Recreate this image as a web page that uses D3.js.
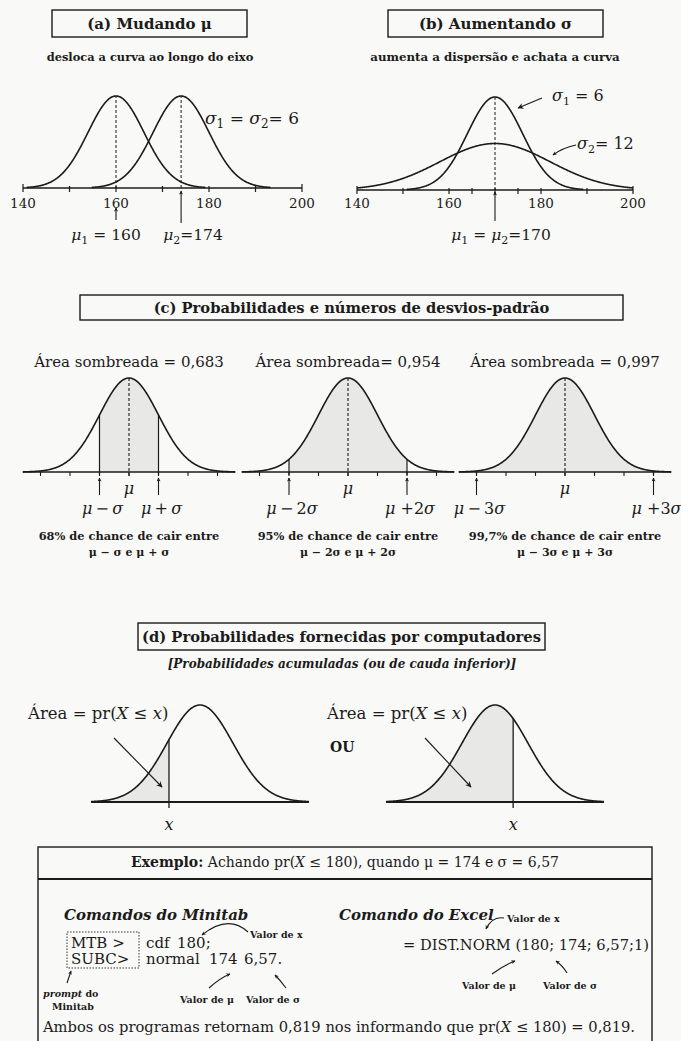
<!DOCTYPE html>
<html><head><meta charset="utf-8">
<script src="https://cdn.jsdelivr.net/npm/d3@7"></script>
<style>
html,body{margin:0;padding:0;background:#f9f9f7;}
svg{display:block;}
text{font-family:"DejaVu Serif",serif;fill:#1b1b1b;}
</style></head><body>
<script>
// ---- data ----
// (a) shifting the mean
const meansA = [160, 174];
const sigmaA = 6;
const ticksA = [140, 150, 160, 170, 180, 190, 200];
const tickLabelsA = [140, 160, 180, 200];
// (b) increasing the spread
const meanB = 170;
const sigmasB = [6, 12];
const ticksB = [140, 150, 160, 165, 170, 175, 180, 190, 200];
const tickLabelsB = [140, 160, 180, 200];
// (c) areas within k standard deviations
const sdMultiples = [1, 2, 3];
const shadedAreas = ["0,683", "0,954", "0,997"];
const chanceText = ["68%", "95%", "99,7%"];
// (d) lower-tail probabilities (cut-off in standard units)
const cutoffsZ = [-0.94, 0.55];
// worked example
const exX = 180, exMu = 174, exSigma = "6,57", exProb = "0,819";

const W = 681, H = 1041;
const svg = d3.select("body").append("svg").attr("width", W).attr("height", H);
svg.append("rect").attr("width", W).attr("height", H).attr("fill", "#f9f9f7");

const INK = "#1b1b1b";
const defs = svg.append("defs");
defs.append("marker").attr("id", "ah").attr("viewBox", "0 0 10 10")
  .attr("refX", 9).attr("refY", 5).attr("markerWidth", 7).attr("markerHeight", 6)
  .attr("markerUnits", "userSpaceOnUse").attr("orient", "auto")
  .append("path").attr("d", "M0,0 L10,5 L0,10 L3,5 z").attr("fill", INK);
defs.append("marker").attr("id", "ahs").attr("viewBox", "0 0 10 10")
  .attr("refX", 9).attr("refY", 5).attr("markerWidth", 6).attr("markerHeight", 4)
  .attr("markerUnits", "userSpaceOnUse").attr("orient", "auto")
  .append("path").attr("d", "M0,0 L10,5 L0,10 L3,5 z").attr("fill", INK);

const pdf = (x, m, s) => Math.exp(-0.5 * ((x - m) / s) ** 2) / (s * Math.sqrt(2 * Math.PI));

// text with italic / subscript pieces
function rich(g, x, y, parts, size, anchor, extra) {
  const t = g.append("text").attr("x", x).attr("y", y)
    .attr("font-size", size).attr("text-anchor", anchor || "start");
  if (extra) extra(t);
  let shift = 0;
  parts.forEach(p => {
    const s = t.append("tspan").text(p.t);
    const target = p.sub ? Math.round(size * 0.25) : 0;
    if (target !== shift) { s.attr("dy", target - shift); shift = target; }
    if (p.sub) s.attr("font-size", Math.round(size * 0.7));
    if (p.i) s.attr("font-style", "italic");
    if (p.b) s.attr("font-weight", "bold");
  });
  return t;
}
function titleBox(x0, x1, y0, y1, parts, size) {
  svg.append("rect").attr("x", x0).attr("y", y0).attr("width", x1 - x0).attr("height", y1 - y0)
    .attr("fill", "none").attr("stroke", INK).attr("stroke-width", 1.4);
  rich(svg, (x0 + x1) / 2, (y0 + y1) / 2 + size * 0.36, parts, size, "middle", t => t.attr("font-weight", "bold"));
}
function arrow(x1, y1, x2, y2, small) {
  svg.append("line").attr("x1", x1).attr("y1", y1).attr("x2", x2).attr("y2", y2)
    .attr("stroke", INK).attr("stroke-width", 1.1).attr("marker-end", small ? "url(#ahs)" : "url(#ah)");
}
function curvedArrow(x1, y1, cx, cy, x2, y2) {
  const p = d3.path(); p.moveTo(x1, y1); p.quadraticCurveTo(cx, cy, x2, y2);
  svg.append("path").attr("d", p.toString()).attr("fill", "none").attr("stroke", INK)
    .attr("stroke-width", 1.1).attr("marker-end", "url(#ahs)");
}
const curveLine = (xs, ys) => d3.line().x(d => xs(d[0])).y(d => ys(d[1]));

// ---------- (a) ----------
titleBox(52, 247, 10, 37, [{t: "(a) Mudando "}, {t: "μ"}], 15);
svg.append("text").attr("x", 150).attr("y", 61).attr("text-anchor", "middle")
  .attr("font-size", 11.4).attr("font-weight", "bold").text("desloca a curva ao longo do eixo");
{
  const ax = 188;
  const x = d3.scaleLinear([140, 200], [23, 302]);
  const y = d3.scaleLinear([0, pdf(0, 0, sigmaA)], [ax, 96]);
  const g = svg.append("g");
  g.append("line").attr("x1", x(140)).attr("x2", x(200)).attr("y1", ax).attr("y2", ax)
    .attr("stroke", INK).attr("stroke-width", 1.5);
  ticksA.forEach(v => g.append("line").attr("x1", x(v)).attr("x2", x(v))
    .attr("y1", ax - (v === 140 || v === 200 ? 4 : 2)).attr("y2", ax + 4).attr("stroke", INK).attr("stroke-width", 1.2));
  tickLabelsA.forEach(v => g.append("text").attr("x", x(v)).attr("y", 208).attr("text-anchor", "middle")
    .attr("font-size", 13.5).text(v));
  meansA.forEach(m => {
    const pts = d3.range(m - 3.2 * sigmaA, m + 3.2 * sigmaA + 0.01, 0.1).map(v => [v, pdf(v, m, sigmaA)]);
    g.append("path").attr("d", curveLine(x, y)(pts)).attr("fill", "none").attr("stroke", INK).attr("stroke-width", 1.6);
    g.append("line").attr("x1", x(m)).attr("x2", x(m)).attr("y1", ax).attr("y2", y(pdf(m, m, sigmaA)))
      .attr("stroke", INK).attr("stroke-width", 1).attr("stroke-dasharray", "3,2");
  });
  arrow(x(meansA[0]), 220, x(meansA[0]), 208, true);
  arrow(x(meansA[1]), 223, x(meansA[1]), 191, true);
  rich(g, 106, 240, [{t: "μ", i: true}, {t: "1", sub: true}, {t: " = " + meansA[0]}], 15.5, "middle");
  rich(g, 193, 240, [{t: "μ", i: true}, {t: "2", sub: true}, {t: "=" + meansA[1]}], 15.5, "middle");
  rich(g, 205, 124, [{t: "σ", i: true}, {t: "1", sub: true}, {t: " =  "}, {t: "σ", i: true}, {t: "2", sub: true}, {t: "= " + sigmaA}], 17, "start");
}

// ---------- (b) ----------
titleBox(388, 603, 10, 37, [{t: "(b) Aumentando "}, {t: "σ"}], 15);
svg.append("text").attr("x", 495).attr("y", 61).attr("text-anchor", "middle")
  .attr("font-size", 11.8).attr("font-weight", "bold").text("aumenta a dispersão e achata a curva");
{
  const ax = 190;
  const x = d3.scaleLinear([140, 200], [357, 633]);
  const y = d3.scaleLinear([0, pdf(0, 0, sigmasB[0])], [ax, 97]);
  const g = svg.append("g");
  g.append("line").attr("x1", x(140)).attr("x2", x(200)).attr("y1", ax).attr("y2", ax)
    .attr("stroke", INK).attr("stroke-width", 1.5);
  ticksB.forEach(v => g.append("line").attr("x1", x(v)).attr("x2", x(v))
    .attr("y1", ax - (v === 140 || v === 200 ? 4 : 2)).attr("y2", ax + 4).attr("stroke", INK).attr("stroke-width", 1.2));
  tickLabelsB.forEach(v => g.append("text").attr("x", x(v)).attr("y", 208).attr("text-anchor", "middle")
    .attr("font-size", 13.5).text(v));
  sigmasB.forEach(s => {
    const lo = Math.max(140, meanB - 3.2 * s), hi = Math.min(200, meanB + 3.2 * s);
    const pts = d3.range(lo, hi + 0.01, 0.1).map(v => [v, pdf(v, meanB, s)]);
    g.append("path").attr("d", curveLine(x, y)(pts)).attr("fill", "none").attr("stroke", INK).attr("stroke-width", 1.6);
  });
  g.append("line").attr("x1", x(meanB)).attr("x2", x(meanB)).attr("y1", ax).attr("y2", y(pdf(meanB, meanB, sigmasB[0])))
    .attr("stroke", INK).attr("stroke-width", 1).attr("stroke-dasharray", "3,2");
  arrow(x(meanB), 221, x(meanB), 192, true);
  rich(g, 501, 240, [{t: "μ", i: true}, {t: "1", sub: true}, {t: " = "}, {t: "μ", i: true}, {t: "2", sub: true}, {t: "=" + meanB}], 15.5, "middle");
  rich(g, 552, 101, [{t: "σ", i: true}, {t: "1", sub: true}, {t: " = " + sigmasB[0]}], 16, "start");
  arrow(542, 98, 518, 108);
  rich(g, 577, 149, [{t: "σ", i: true}, {t: "2", sub: true}, {t: "= " + sigmasB[1]}], 16, "start");
  curvedArrow(576, 145, 562, 148, 553, 155);
}

// ---------- (c) ----------
titleBox(80, 623, 295, 320, [{t: "(c) Probabilidades e números de desvios-padrão"}], 14.7);
{
  const centers = [129, 348, 565];
  const ax = 472, peakY = 378, sd = 29.5;
  const th = "\u2009";
  sdMultiples.forEach((k, i) => {
    const cx = centers[i];
    const x = d3.scaleLinear([-1, 1], [cx - sd, cx + sd]);
    const y = d3.scaleLinear([0, 1], [ax, peakY]);
    const g = svg.append("g");
    const f = z => Math.exp(-0.5 * z * z);
    const shade = d3.range(-k, k + 0.001, 0.02).map(z => [z, f(z)]);
    g.append("path").attr("d", d3.area().x(d => x(d[0])).y0(ax).y1(d => y(d[1]))(shade)).attr("fill", "#e8e8e6");
    const pts = d3.range(-3.6, 3.601, 0.02).map(z => [z, f(z)]);
    g.append("line").attr("x1", x(-3.6)).attr("x2", x(3.6)).attr("y1", ax).attr("y2", ax)
      .attr("stroke", INK).attr("stroke-width", 1.5);
    d3.range(-3, 4).forEach(z => g.append("line").attr("x1", x(z)).attr("x2", x(z))
      .attr("y1", ax).attr("y2", ax + 4).attr("stroke", INK).attr("stroke-width", 1.1));
    g.append("path").attr("d", curveLine(x, y)(pts)).attr("fill", "none").attr("stroke", INK).attr("stroke-width", 1.6);
    g.append("line").attr("x1", x(0)).attr("x2", x(0)).attr("y1", ax + 4).attr("y2", y(1))
      .attr("stroke", INK).attr("stroke-width", 1.1).attr("stroke-dasharray", "3,2");
    [-k, k].forEach(z => {
      g.append("line").attr("x1", x(z)).attr("x2", x(z)).attr("y1", ax + 3).attr("y2", y(f(z)))
        .attr("stroke", INK).attr("stroke-width", 1.2);
      arrow(x(z), 495, x(z), 478, true);
    });
    const kk = k === 1 ? "" : String(k);
    rich(g, x(-k) + 3, 514, [{t: "μ", i: true}, {t: th + "−" + th + kk}, {t: "σ", i: true}], 16, "middle");
    rich(g, x(k) + 3, 514, [{t: "μ", i: true}, {t: (k === 1 ? th + "+" + th : " +") + kk}, {t: "σ", i: true}], 16, "middle");
    rich(g, x(0), 494, [{t: "μ", i: true}], 16, "middle");
    g.append("text").attr("x", cx).attr("y", 367).attr("text-anchor", "middle").attr("font-size", 15)
      .text("Área sombreada" + (k === 2 ? "= " : " = ") + shadedAreas[i]);
    g.append("text").attr("x", cx).attr("y", 540).attr("text-anchor", "middle").attr("font-size", 11.4)
      .attr("font-weight", "bold").text(chanceText[i] + " de chance de cair entre");
    g.append("text").attr("x", cx).attr("y", 556).attr("text-anchor", "middle").attr("font-size", 11)
      .attr("font-weight", "bold")
      .text("μ − " + kk + "σ e μ + " + kk + "σ");
  });
}

// ---------- (d) ----------
titleBox(138, 545, 623, 650, [{t: "(d) Probabilidades fornecidas por computadores"}], 14.7);
svg.append("text").attr("x", 342).attr("y", 668).attr("text-anchor", "middle").attr("font-size", 12)
  .attr("font-weight", "bold").attr("font-style", "italic")
  .text("[Probabilidades acumuladas (ou de cauda inferior)]");
{
  const centers = [200, 495];
  const ax = 802, sd = 33, peakY = 705;
  cutoffsZ.forEach((c, i) => {
    const cx = centers[i];
    const x = d3.scaleLinear([-1, 1], [cx - sd, cx + sd]);
    const y = d3.scaleLinear([0, 1], [ax, peakY]);
    const f = z => Math.exp(-0.5 * z * z);
    const g = svg.append("g");
    const shade = d3.range(-3.3, c + 0.001, 0.02).map(z => [z, f(z)]);
    g.append("path").attr("d", d3.area().x(d => x(d[0])).y0(ax).y1(d => y(d[1]))(shade)).attr("fill", "#e8e8e6");
    g.append("line").attr("x1", x(-3.3)).attr("x2", x(3.3)).attr("y1", ax).attr("y2", ax)
      .attr("stroke", INK).attr("stroke-width", 2);
    const pts = d3.range(-3.3, 3.301, 0.02).map(z => [z, f(z)]);
    g.append("path").attr("d", curveLine(x, y)(pts)).attr("fill", "none").attr("stroke", INK).attr("stroke-width", 1.6);
    g.append("line").attr("x1", x(c)).attr("x2", x(c)).attr("y1", ax + 6).attr("y2", y(f(c)))
      .attr("stroke", INK).attr("stroke-width", 1.3);
    g.append("text").attr("x", x(c)).attr("y", 830).attr("text-anchor", "middle").attr("font-size", 16)
      .attr("font-style", "italic").text("x");
    const lx = i === 0 ? 28 : 327;
    rich(g, lx, 719, [{t: "Área = pr("}, {t: "X", i: true}, {t: " ≤ "}, {t: "x", i: true}, {t: ")"}], 16.5, "start");
  });
  arrow(114, 738, 162, 787);
  arrow(425, 738, 471, 787);
  svg.append("text").attr("x", 330).attr("y", 752).attr("font-size", 14).attr("font-weight", "bold").text("OU");
}

// ---------- example box ----------
{
  svg.append("rect").attr("x", 38).attr("y", 847).attr("width", 614).attr("height", 220)
    .attr("fill", "none").attr("stroke", INK).attr("stroke-width", 1.4);
  svg.append("line").attr("x1", 38).attr("x2", 652).attr("y1", 879).attr("y2", 879)
    .attr("stroke", INK).attr("stroke-width", 2);
  rich(svg, 345, 867, [{t: "Exemplo:", b: true}, {t: " Achando pr("}, {t: "X", i: true},
    {t: " ≤ " + exX + "), quando μ = " + exMu + " e σ = " + exSigma}], 14, "middle");
  svg.append("text").attr("x", 64).attr("y", 920).attr("font-size", 15).attr("font-weight", "bold")
    .attr("font-style", "italic").text("Comandos do Minitab");
  svg.append("text").attr("x", 339).attr("y", 920).attr("font-size", 15).attr("font-weight", "bold")
    .attr("font-style", "italic").text("Comando do Excel");
  svg.append("rect").attr("x", 67).attr("y", 932).attr("width", 72).attr("height", 36)
    .attr("fill", "none").attr("stroke", INK).attr("stroke-width", 0.9).attr("stroke-dasharray", "1.5,1.5");
  const cmd = (x, y, s) => svg.append("text").attr("x", x).attr("y", y).attr("font-size", 15).text(s);
  cmd(71, 948, "MTB >");
  cmd(146, 948, "cdf");
  cmd(177, 948, exX + ";");
  cmd(71, 964, "SUBC>");
  cmd(146, 964, "normal");
  cmd(209, 964, String(exMu));
  cmd(244, 964, exSigma + ".");
  const small = (x, y, parts) => rich(svg, x, y, parts, 9.5, "start", t => t.attr("font-weight", "bold"));
  small(250, 938, [{t: "Valor de x"}]);
  curvedArrow(248, 932, 228, 914, 202, 935);
  small(180, 1003, [{t: "Valor de μ"}]);
  small(246, 1003, [{t: "Valor de σ"}]);
  curvedArrow(209, 988, 220, 978, 230, 974);
  curvedArrow(286, 988, 280, 980, 275, 975);
  small(43, 997, [{t: "prompt", i: true}, {t: " do"}]);
  small(52, 1010, [{t: "Minitab"}]);
  arrow(67, 983, 71, 971, true);
  svg.append("text").attr("x", 403).attr("y", 950).attr("font-size", 15.5)
    .attr("textLength", 246).attr("lengthAdjust", "spacingAndGlyphs")
    .text("= DIST.NORM (" + exX + "; " + exMu + "; " + exSigma + ";1)");
  small(507, 922, [{t: "Valor de x"}]);
  curvedArrow(504, 918, 492, 916, 486, 929);
  small(462, 989, [{t: "Valor de μ"}]);
  small(543, 989, [{t: "Valor de σ"}]);
  curvedArrow(492, 974, 504, 965, 515, 961);
  curvedArrow(567, 973, 563, 966, 556, 961);
  rich(svg, 43, 1032, [{t: "Ambos os programas retornam " + exProb + " nos informando que pr("}, {t: "X", i: true},
    {t: " ≤ " + exX + ") = " + exProb + "."}], 14.7, "start");
}
</script>
</body></html>
